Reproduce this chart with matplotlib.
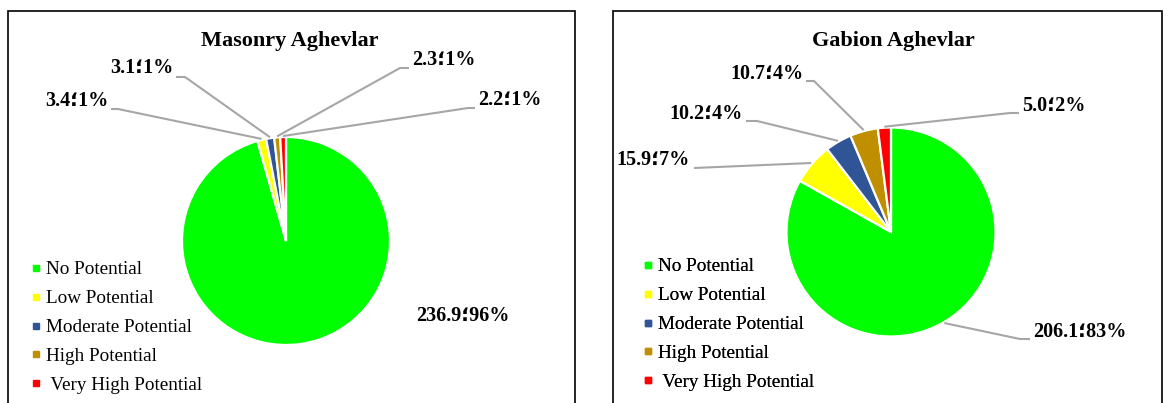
import numpy as np
import matplotlib
matplotlib.use("Agg")
import matplotlib.pyplot as plt
from matplotlib.lines import Line2D

W, H = 1169, 403

categories = ["No Potential", "Low Potential", "Moderate Potential", "High Potential", " Very High Potential"]
colors = ["#00FF00", "#FFFF00", "#2F5597", "#BF8F00", "#FF0000"]

masonry_title = "Masonry Aghevlar"
masonry_values = [236.9, 3.4, 3.1, 2.3, 2.2]
masonry_pcts = [96, 1, 1, 1, 1]

gabion_title = "Gabion Aghevlar"
gabion_values = [206.1, 15.9, 10.2, 10.7, 5.0]
gabion_pcts = [83, 7, 4, 4, 2]

SEP = "\u061b"
FAM = ["Liberation Serif", "DejaVu Sans"]

fig = plt.figure(figsize=(W / 100, H / 100), dpi=100)
ax = fig.add_axes([0, 0, 1, 1])
ax.set_xlim(0, W)
ax.set_ylim(0, H)
ax.set_aspect("equal")
ax.axis("off")


def Y(y):
    return H - y


# panel frames (open at bottom)
for (x0, x1) in [(8, 575), (613, 1162)]:
    ax.plot([x0, x0, x1, x1], [0, Y(10.5), Y(10.5), 0], color="black", lw=1.2,
            solid_joinstyle="miter")

panels = [
    dict(title=masonry_title, values=masonry_values, pcts=masonry_pcts,
         center=(286, 241), r=104, title_xy=(290, 41), legend_xy=(32, 261),
         labels=[
             dict(xy=(463, 316), ha="center", path=None),
             dict(xy=(108, 101), ha="right", path=[(111, 109), (118, 109)]),
             dict(xy=(173, 68), ha="right", path=[(176, 77), (185, 77)]),
             dict(xy=(412, 60), ha="left", path=[(409, 68), (400, 68)]),
             dict(xy=(478, 100), ha="left", path=[(475, 108), (468, 108)]),
         ]),
    dict(title=gabion_title, values=gabion_values, pcts=gabion_pcts,
         center=(891, 232), r=104.5, title_xy=(893, 41), legend_xy=(644, 258),
         labels=[
             dict(xy=(1033, 332), ha="left", path=[(1030, 339), (1020, 339)]),
             dict(xy=(690, 160), ha="right", path=[(694, 168)]),
             dict(xy=(743, 114), ha="right", path=[(746, 121), (757, 121)]),
             dict(xy=(803, 74), ha="right", path=[(806, 81), (814, 81)]),
             dict(xy=(1022, 106), ha="left", path=[(1019, 113), (1010, 113)]),
         ]),
]

for p in panels:
    cx, cy = p["center"]
    r = p["r"]
    wedges, _ = ax.pie(p["values"], colors=colors, startangle=90, counterclock=False,
                       center=(cx, Y(cy)), radius=r, frame=True,
                       wedgeprops=dict(edgecolor="white", linewidth=1.6))
    ax.text(p["title_xy"][0], Y(p["title_xy"][1]), p["title"], ha="center", va="center",
            fontsize=16, fontweight="bold", family=FAM)
    for w, v, pc, lab in zip(wedges, p["values"], p["pcts"], p["labels"]):
        tx, ty = lab["xy"]
        ax.text(tx, Y(ty), f"{v:.1f}{SEP}{pc}%", ha=lab["ha"], va="center",
                fontsize=14.5, fontweight="bold", family=FAM)
        if lab["path"] is not None:
            th = np.deg2rad((w.theta1 + w.theta2) / 2)
            ax_ = cx + (r + 1) * np.cos(th)
            ay_ = Y(cy) + (r + 1) * np.sin(th)
            xs = [q[0] for q in lab["path"]] + [ax_]
            ys = [Y(q[1]) for q in lab["path"]] + [ay_]
            ax.plot(xs, ys, color="#A6A6A6", lw=1.5, solid_capstyle="butt")
    handles = [Line2D([], [], linestyle="none", marker="s", markersize=4.5,
                      markerfacecolor=c, markeredgecolor=c) for c in colors]
    leg = ax.legend(handles, categories, loc="upper left",
                    bbox_to_anchor=(p["legend_xy"][0], Y(p["legend_xy"][1])),
                    bbox_transform=ax.transData, frameon=False,
                    prop=dict(family=FAM, size=13.8), handlelength=0.45,
                    handletextpad=0.3, labelspacing=0.6, borderaxespad=0,
                    borderpad=0)
    ax.add_artist(leg)

ax.set_xlim(0, W)
ax.set_ylim(0, H)
ax.axis("off")
fig.savefig("out.png", dpi=100)
